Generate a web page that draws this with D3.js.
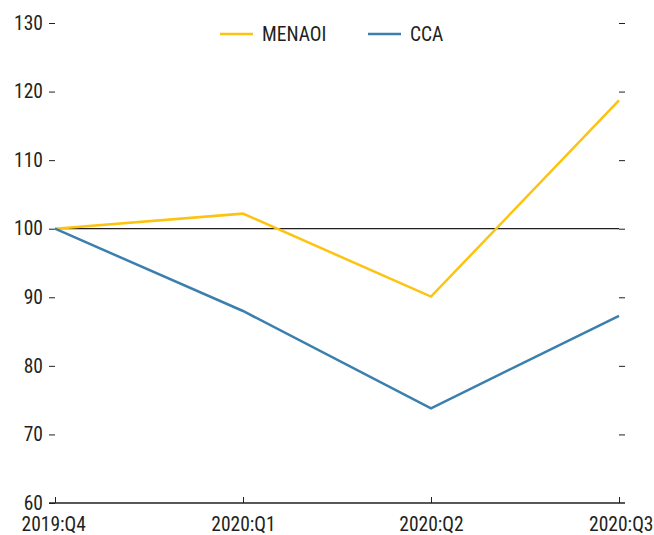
<!DOCTYPE html>
<html>
<head>
<meta charset="utf-8">
<script src="https://cdn.jsdelivr.net/npm/d3@7"></script>
<style>
  body { margin: 0; background: #fff; }
  text { font-family: "Liberation Sans Narrow", "Arial Narrow", "Roboto Condensed", sans-serif; fill: #231f20; }
</style>
</head>
<body>
<div id="chart"></div>
<script>
// data
var categories = ["2019:Q4", "2020:Q1", "2020:Q2", "2020:Q3"];
var menaoi = [100, 102.2, 90.1, 118.7];
var cca = [100, 88.0, 73.8, 87.3];
var yTicks = [60, 70, 80, 90, 100, 110, 120, 130];

var series = [
  {name: "MENAOI", values: menaoi, color: "#fcc30f"},
  {name: "CCA", values: cca, color: "#3b80ad"}
];

var W = 654, H = 535;
var margin = {top: 23, right: 35, bottom: 32, left: 55},
    width = W - margin.left - margin.right,
    height = H - margin.top - margin.bottom;
var fontSize = "19.5px";

var svg = d3.select("#chart").append("svg")
    .attr("width", W)
    .attr("height", H);

var g = svg.append("g")
    .attr("transform", "translate(" + margin.left + "," + margin.top + ")");

// scales
var x = d3.scalePoint().domain(categories).range([0, width]);
var y = d3.scaleLinear().domain([60, 130]).range([height, 0]);

// left axis: labels + short outer ticks
var yl = g.append("g")
    .call(d3.axisLeft(y).tickValues(yTicks).tickSize(6).tickPadding(6));
yl.select(".domain").remove();
yl.selectAll("line").attr("stroke", "#231f20");
yl.selectAll("text").style("font-size", fontSize).attr("fill", "#231f20");

// right axis: ticks only
var yr = g.append("g")
    .attr("transform", "translate(" + width + ",0)")
    .call(d3.axisRight(y).tickValues(yTicks.filter(function(d) { return d > 60; })).tickSize(6).tickFormat(""));
yr.select(".domain").remove();
yr.selectAll("line").attr("stroke", "#231f20");

// bottom axis
var xa = g.append("g")
    .attr("transform", "translate(0," + height + ")")
    .call(d3.axisBottom(x).tickSize(-6).tickPadding(14));
xa.select(".domain").remove();
xa.selectAll("line").attr("stroke", "#231f20");
xa.selectAll("text").style("font-size", fontSize).attr("fill", "#231f20");
xa.append("line")
    .attr("x1", -6).attr("x2", width + 6)
    .attr("y1", 0).attr("y2", 0)
    .attr("stroke", "#231f20").attr("stroke-width", 1.5);
// keep end labels inside the frame like the reference
xa.selectAll(".tick text")
    .attr("text-anchor", function(d, i) { return i === 0 ? "start" : (i === categories.length - 1 ? "end" : "middle"); })
    .attr("dx", function(d, i) { return i === 0 ? "-34" : (i === categories.length - 1 ? "34" : "0"); });

// reference line at 100
g.append("line")
    .attr("x1", 0).attr("x2", width)
    .attr("y1", y(100)).attr("y2", y(100))
    .attr("stroke", "#231f20").attr("stroke-width", 1.2);

// lines
var line = d3.line()
    .x(function(d, i) { return x(categories[i]); })
    .y(function(d) { return y(d); });

g.selectAll(".series")
    .data(series)
    .enter().append("path")
      .attr("class", "series")
      .attr("fill", "none")
      .attr("stroke", function(d) { return d.color; })
      .attr("stroke-width", 2.5)
      .attr("d", function(d) { return line(d.values); });

// legend
var legendX = [220, 368];
var legend = svg.selectAll(".legend")
    .data(series)
    .enter().append("g")
      .attr("class", "legend")
      .attr("transform", function(d, i) { return "translate(" + legendX[i] + ",34)"; });
legend.append("line")
    .attr("x1", 0).attr("x2", 33)
    .attr("stroke", function(d) { return d.color; })
    .attr("stroke-width", 2.5);
legend.append("text")
    .attr("x", 42).attr("dy", "0.35em")
    .style("font-size", fontSize)
    .text(function(d) { return d.name; });
</script>
</body>
</html>
